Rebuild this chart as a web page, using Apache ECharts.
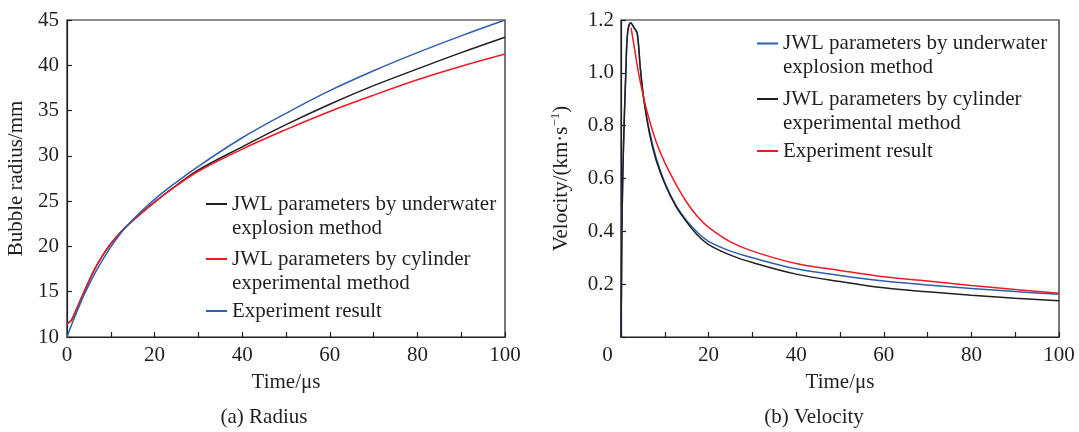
<!DOCTYPE html>
<html><head><meta charset="utf-8">
<script src="https://cdn.jsdelivr.net/npm/echarts@6/dist/echarts.min.js"></script>
<style>html,body{margin:0;padding:0;background:#fff}#c{width:1079px;height:432px}</style>
</head><body><div id="c"></div>
<script>
// ---- Data: (a) Radius ----
const timeRadius = [0, 1, 2, 3, 4, 6, 8, 10, 12.5, 15, 20, 25, 30, 40, 50, 60, 70, 80, 90, 100];
const radiusUnderwater = [11.45, 11.85, 12.9, 14.0, 15.1, 17.2, 18.9, 20.3, 21.7, 22.85, 24.9, 26.75, 28.45, 31.0, 33.45, 35.7, 37.75, 39.6, 41.4, 43.1];
const radiusCylinder   = [11.45, 11.85, 12.9, 14.0, 15.1, 17.2, 18.9, 20.3, 21.7, 22.85, 24.9, 26.7, 28.3, 30.75, 32.9, 34.9, 36.7, 38.4, 39.9, 41.25];
const radiusExperiment = [10.0, 11.3, 12.5, 13.65, 14.75, 16.7, 18.4, 19.95, 21.6, 22.95, 25.2, 27.1, 28.85, 32.0, 34.7, 37.2, 39.4, 41.4, 43.25, 45.0];

// ---- Data: (b) Velocity ----
const timeVelSim = [0, 0.1, 0.2, 0.4, 0.7, 1.1, 1.5, 2.2, 3.0, 3.7, 4.4, 5.2, 6.5, 8, 10, 12.5, 15, 17.5, 20, 25, 30, 40, 50, 60, 70, 80, 90, 100];
const velUnderwater = [0, 0.2, 0.4, 0.6, 0.8, 1.0, 1.15, 1.19, 1.17, 1.15, 1.02, 0.9, 0.78, 0.68, 0.585, 0.5, 0.44, 0.395, 0.362, 0.325, 0.3, 0.258, 0.233, 0.212, 0.197, 0.184, 0.172, 0.162];
const velCylinder   = [0, 0.2, 0.4, 0.6, 0.8, 1.0, 1.15, 1.19, 1.17, 1.15, 1.02, 0.9, 0.77, 0.67, 0.58, 0.495, 0.435, 0.385, 0.35, 0.31, 0.282, 0.238, 0.21, 0.186, 0.171, 0.158, 0.147, 0.137];
const timeVelExp = [2.3, 3, 4, 5, 6, 8, 10, 12.5, 15, 17.5, 20, 25, 30, 40, 50, 60, 70, 80, 90, 100];
const velExperiment = [1.17, 1.10, 1.0, 0.92, 0.85, 0.74, 0.66, 0.58, 0.51, 0.455, 0.415, 0.36, 0.325, 0.278, 0.252, 0.228, 0.212, 0.195, 0.18, 0.166];

// ---- Labels ----
const xTicks = [0, 20, 40, 60, 80, 100];
const labelText = {
  a1: '\nJWL parameters by underwater\nexplosion method',
  a2: '\nJWL parameters by cylinder\nexperimental method',
  a3: 'Experiment result',
  b1: '\nJWL parameters by underwater\nexplosion method',
  b2: '\nJWL parameters by cylinder\nexperimental method',
  b3: 'Experiment result'
};
const captionA = '(a) Radius';
const captionB = '(b) Velocity';

const FONT = 'Liberation Serif';
const INK = '#231f20';
const RED = '#ed1c24';
const BLUE = '#2e5fae';
const FS = 21;
const LH = 24;

function pairs(xs, ys) { return xs.map((x, i) => [x, ys[i]]); }

function legendFor(name, left, centerY, multi) {
  return {
    data: [name], left: left, top: centerY - (multi ? 1.5 * LH : 0.5 * LH),
    orient: 'vertical', padding: 0, itemWidth: 21, itemHeight: 2, icon: 'rect',
    selectedMode: false,
    formatter: n => labelText[n],
    textStyle: { fontFamily: FONT, fontSize: FS, color: INK, lineHeight: LH }
  };
}

function xAxisFor(gridIndex, shiftZero) {
  return {
    gridIndex, type: 'value', min: 0, max: 100, interval: 10,
    name: 'Time/μs', nameLocation: 'middle', nameGap: 35,
    nameTextStyle: { fontFamily: FONT, fontSize: FS, color: INK },
    axisLine: { onZero: false, lineStyle: { color: INK, width: 1.2 } },
    axisTick: { inside: true, length: 5, lineStyle: { color: INK, width: 1.2 } },
    splitLine: { show: false },
    axisLabel: {
      margin: 8, fontFamily: FONT, fontSize: FS, color: INK,
      formatter: v => {
        if (!xTicks.includes(v)) return '';
        if (v === 0 && shiftZero) return '{z|0}';
        return String(v);
      },
      rich: { z: { fontFamily: FONT, fontSize: FS, color: INK, padding: [0, 27, 0, 0] } }
    }
  };
}

function lineSeries(name, x, y, data, color) {
  return {
    name, type: 'line', xAxisIndex: x, yAxisIndex: y, data,
    symbol: 'none', showSymbol: false, smooth: 0.35,
    color: color, itemStyle: { color: color },
    lineStyle: { color: color, width: 1.5 }, z: 3
  };
}

const chart = echarts.init(document.getElementById('c'), null, { renderer: 'canvas' });
chart.setOption({
  animation: false,
  backgroundColor: '#fff',
  grid: [
    { left: 67, top: 20, width: 438, height: 317, show: true, borderColor: INK, borderWidth: 1.2 },
    { left: 621, top: 20, width: 438, height: 317, show: true, borderColor: INK, borderWidth: 1.2 }
  ],
  xAxis: [xAxisFor(0, false), xAxisFor(1, true)],
  yAxis: [
    {
      gridIndex: 0, type: 'value', min: 10, max: 45, interval: 5,
      name: 'Bubble radius/mm', nameLocation: 'middle', nameGap: 40,
      nameTextStyle: { fontFamily: FONT, fontSize: FS, color: INK },
      axisLine: { show: true, lineStyle: { color: INK, width: 1.2 } },
      axisTick: { show: true, inside: true, length: 5, lineStyle: { color: INK, width: 1.2 } },
      splitLine: { show: false },
      axisLabel: { margin: 8, fontFamily: FONT, fontSize: FS, color: INK }
    },
    {
      gridIndex: 1, type: 'value', min: 0, max: 1.2, interval: 0.2,
      name: '{n|Velocity/(km·s}{s|−1}{n|)}', nameLocation: 'middle', nameGap: 48,
      nameTextStyle: {
        fontFamily: FONT, fontSize: FS, color: INK,
        rich: {
          n: { fontFamily: FONT, fontSize: FS, color: INK, lineHeight: 24 },
          s: { fontFamily: FONT, fontSize: 13, color: INK, verticalAlign: 'top', lineHeight: 24 }
        }
      },
      axisLine: { show: true, lineStyle: { color: INK, width: 1.2 } },
      axisTick: { show: true, inside: true, length: 5, lineStyle: { color: INK, width: 1.2 } },
      splitLine: { show: false },
      axisLabel: {
        margin: 7, fontFamily: FONT, fontSize: FS, color: INK,
        formatter: v => v === 0 ? '' : v.toFixed(1)
      }
    }
  ],
  legend: [
    legendFor('a1', 206, 204, true),
    legendFor('a2', 206, 259, true),
    legendFor('a3', 206, 311, false),
    legendFor('b1', 757, 43.5, true),
    legendFor('b2', 757, 99, true),
    legendFor('b3', 757, 151, false)
  ],
  series: [
    lineSeries('a1', 0, 0, pairs(timeRadius, radiusUnderwater), INK),
    lineSeries('a2', 0, 0, pairs(timeRadius, radiusCylinder), RED),
    lineSeries('a3', 0, 0, pairs(timeRadius, radiusExperiment), BLUE),
    lineSeries('b1', 1, 1, pairs(timeVelSim, velUnderwater), BLUE),
    lineSeries('b2', 1, 1, pairs(timeVelSim, velCylinder), INK),
    lineSeries('b3', 1, 1, pairs(timeVelExp, velExperiment), RED)
  ],
  graphic: [
    { type: 'text', x: 264, y: 417, style: { text: captionA, fontFamily: FONT, fontSize: FS, fill: INK, align: 'center', verticalAlign: 'middle' } },
    { type: 'text', x: 814, y: 417, style: { text: captionB, fontFamily: FONT, fontSize: FS, fill: INK, align: 'center', verticalAlign: 'middle' } }
  ]
});
</script>
</body></html>
